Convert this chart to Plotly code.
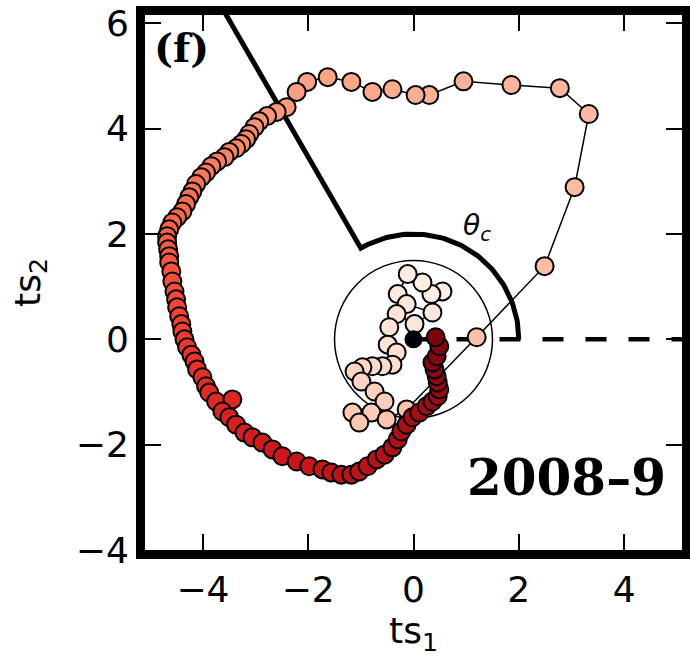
import numpy as np
import plotly.graph_objects as go

# trajectory in the (ts1, ts2) plane, in time order (light -> dark)
ts1 = [0.55, 0.34, 0.17, -0.11, -0.30, -0.13, 0.36, 0.02, -0.32, -0.46,
       -0.49, -0.32, -0.40, -0.59, -0.78, -0.97, -1.12, -0.99, -0.74, -0.55,
       -0.80, -1.16, -1.03, -0.51, -0.13, 1.20, 2.49, 3.06, 3.33, 2.78,
       1.86, 0.95, 0.30, 0.04, -0.40, -0.78, -1.18, -1.63, -2.02, -2.22,
       -2.41, -2.60, -2.78, -2.93, -3.02, -3.12, -3.18, -3.27, -3.37, -3.50,
       -3.59, -3.73, -3.84, -3.94, -4.03, -4.13, -4.20, -4.26, -4.32, -4.39,
       -4.49, -4.58, -4.64, -4.68, -4.68, -4.66, -4.64, -4.64, -4.60, -4.58,
       -4.54, -4.51, -4.49, -4.45, -4.41, -4.39, -4.35, -4.30, -4.22, -4.16,
       -4.11, -4.01, -3.94, -3.88, -3.75, -3.44, -3.63, -3.50, -3.37, -3.21,
       -3.06, -2.87, -2.68, -2.49, -2.22, -1.98, -1.73, -1.56, -1.37, -1.18,
       -1.03, -0.87, -0.70, -0.55, -0.40, -0.30, -0.23, -0.13, -0.02, 0.11,
       0.25, 0.36, 0.46, 0.49, 0.46, 0.44, 0.40, 0.36, 0.44, 0.49, 0.42]
ts2 = [0.91, 0.86, 1.08, 1.24, 0.86, 0.67, 0.51, 0.29, 0.48, 0.23,
       -0.10, -0.25, -0.48, -0.51, -0.51, -0.53, -0.61, -0.80, -0.99, -1.18,
       -1.39, -1.39, -1.58, -1.52, -1.33, 0.04, 1.39, 2.89, 4.28, 4.77,
       4.83, 4.90, 4.64, 4.64, 4.75, 4.70, 4.89, 4.98, 4.89, 4.70,
       4.41, 4.32, 4.24, 4.14, 4.03, 3.90, 3.80, 3.71, 3.63, 3.56,
       3.46, 3.38, 3.29, 3.17, 3.08, 2.95, 2.81, 2.70, 2.57, 2.43,
       2.32, 2.22, 2.09, 1.96, 1.84, 1.71, 1.58, 1.46, 1.29, 1.10,
       0.91, 0.76, 0.61, 0.44, 0.29, 0.15, 0.00, -0.15, -0.29, -0.42,
       -0.57, -0.72, -0.89, -1.01, -1.18, -1.14, -1.37, -1.48, -1.62, -1.77,
       -1.86, -1.96, -2.09, -2.22, -2.32, -2.41, -2.47, -2.53, -2.57, -2.57,
       -2.51, -2.41, -2.28, -2.19, -2.05, -1.90, -1.75, -1.62, -1.48, -1.39,
       -1.27, -1.18, -1.08, -0.95, -0.82, -0.70, -0.57, -0.44, -0.32, -0.13, 0.04]
time_index = list(range(len(ts1)))

x_ticks = [-4, -2, 0, 2, 4]
y_ticks = [-4, -2, 0, 2, 4, 6]
x_range = [-5.1, 5.1]
y_range = [-4.0, 6.16]

inner_radius = 1.5
arc_radius = 2.0
theta_c_deg = 120.0

def fmt(v):
    return ("\u2212" + str(abs(v))) if v < 0 else str(v)

fig = go.Figure()

# dashed reference line along theta = 0
fig.add_trace(go.Scatter(x=[0, x_range[1] + 0.5], y=[0, 0], mode="lines",
                         line=dict(color="black", width=4.5, dash="21px,22px"),
                         hoverinfo="skip", showlegend=False))

# arc of angle theta_c plus radial line
th = np.radians(np.linspace(0, theta_c_deg, 80))
ax_ = list(arc_radius * np.cos(th)) + [9 * np.cos(np.radians(theta_c_deg))]
ay_ = list(arc_radius * np.sin(th)) + [9 * np.sin(np.radians(theta_c_deg))]
fig.add_trace(go.Scatter(x=ax_, y=ay_, mode="lines",
                         line=dict(color="black", width=5),
                         hoverinfo="skip", showlegend=False))

# trajectory
fig.add_trace(go.Scatter(
    x=ts1, y=ts2, mode="lines+markers",
    line=dict(color="black", width=1.5),
    marker=dict(size=18, color=time_index, colorscale="Reds",
                cmin=-5, cmax=125, line=dict(color="black", width=2)),
    showlegend=False))

# origin
fig.add_trace(go.Scatter(x=[0], y=[0], mode="markers",
                         marker=dict(size=18, color="black"),
                         showlegend=False))

fig.add_shape(type="circle", xref="x", yref="y",
              x0=-inner_radius, x1=inner_radius, y0=-inner_radius, y1=inner_radius,
              line=dict(color="black", width=1.5), layer="below")

fig.add_annotation(x=1.2, y=2.13, xref="x", yref="y", showarrow=False,
                   text="<i>θ</i><sub><i>c</i></sub>",
                   font=dict(family="DejaVu Sans", size=28, color="black"))
fig.add_annotation(x=-4.4, y=5.55, xref="x", yref="y", showarrow=False,
                   text="<b>(f)</b>",
                   font=dict(family="DejaVu Serif", size=40, color="black"))
fig.add_annotation(x=2.9, y=-2.63, xref="x", yref="y", showarrow=False,
                   text="<b>2008–9</b>",
                   font=dict(family="DejaVu Serif", size=50, color="black"))

axis_common = dict(showline=True, linewidth=9, linecolor="black", mirror="allticks",
                   ticks="inside", ticklen=16, tickwidth=1.5, tickcolor="black",
                   showgrid=False, zeroline=False, automargin=False,
                   tickfont=dict(family="DejaVu Sans", size=36, color="black"))

fig.update_xaxes(range=x_range, tickvals=x_ticks, ticktext=[fmt(v) for v in x_ticks],
                 title=dict(text="ts<sub>1</sub>", standoff=4,
                            font=dict(family="DejaVu Sans", size=36, color="black")),
                 **axis_common)
fig.update_yaxes(range=y_range, tickvals=y_ticks, ticktext=[fmt(v) for v in y_ticks],
                 title=dict(text="ts<sub>2</sub>", standoff=28,
                            font=dict(family="DejaVu Sans", size=36, color="black")),
                 **axis_common)

fig.update_layout(width=690, height=657,
                  margin=dict(l=145, r=8, t=15, b=107, pad=0),
                  plot_bgcolor="white", paper_bgcolor="white",
                  showlegend=False)

fig.write_html("out.html")
